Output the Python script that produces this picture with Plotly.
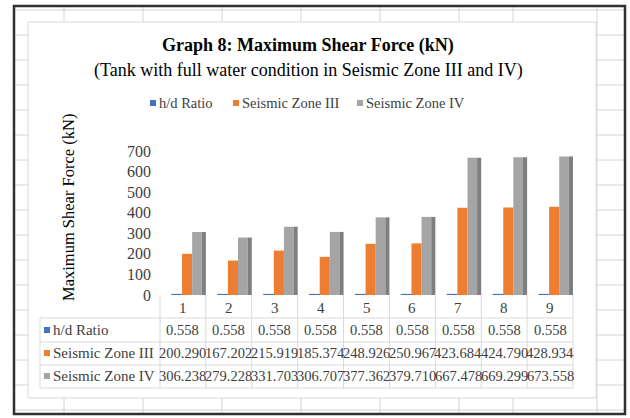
import plotly.graph_objects as go

categories = [1, 2, 3, 4, 5, 6, 7, 8, 9]
hd_ratio = [0.558, 0.558, 0.558, 0.558, 0.558, 0.558, 0.558, 0.558, 0.558]
zone_iii = [200.290, 167.202, 215.919, 185.374, 248.926, 250.967, 423.684, 424.790, 428.934]
zone_iv = [306.238, 279.228, 331.703, 306.707, 377.362, 379.710, 667.478, 669.299, 673.558]
series_names = ["h/d Ratio", "Seismic Zone III", "Seismic Zone IV"]
table_text = [["0.558"] * 9,
              ["200.290", "167.202", "215.919", "185.374", "248.926", "250.967", "423.684", "424.790", "428.934"],
              ["306.238", "279.228", "331.703", "306.707", "377.362", "379.710", "667.478", "669.299", "673.558"]]
y_ticks = [0, 100, 200, 300, 400, 500, 600, 700]

BLUE, ORANGE, GRAY, GRAY_SIDE = "#4472C4", "#ED7D31", "#A5A5A5", "#7F7F7F"
TXT = "#404040"
FONT = "Liberation Serif, Times New Roman, serif"

W, H = 630, 418
L, R, T, B = 160, 57, 151, 123
PW, PH = W - L - R, H - T - B
XR = [0.5, 9.5]
YR = [0, 700]


def px(x):
    return (x - L) / PW


def py(y):
    return (H - B - y) / PH


def dx(v):
    return (v - XR[0]) / (XR[1] - XR[0])


fig = go.Figure()
fig.add_trace(go.Bar(x=categories, y=hd_ratio, name=series_names[0], marker_color=BLUE,
                     marker_line=dict(color=BLUE, width=2), offset=-0.23, width=0.2))
fig.add_trace(go.Bar(x=categories, y=zone_iii, name=series_names[1], marker_color=ORANGE,
                     marker_line_width=0, offset=-0.02, width=0.22))
fig.add_trace(go.Bar(x=categories, y=zone_iv, name=series_names[2], marker_color=GRAY,
                     marker_line_width=0, offset=0.20, width=0.21))
fig.add_trace(go.Bar(x=categories, y=zone_iv, name="side", marker_color=GRAY_SIDE, showlegend=False,
                     marker_line_width=0, offset=0.41, width=0.09, hoverinfo="skip"))

shapes = []
grid = dict(color="#d4d4d4", width=1)
# spreadsheet grid
for gy in range(10, 418, 25):
    shapes.append(dict(type="line", xref="paper", yref="paper", x0=px(14), x1=px(625),
                       y0=py(gy), y1=py(gy), line=grid, layer="below"))
for gx in [64, 143, 222, 301, 380, 459, 513, 597]:
    shapes.append(dict(type="line", xref="paper", yref="paper", x0=px(gx), x1=px(gx),
                       y0=py(6), y1=py(414), line=grid, layer="below"))
# chart box
shapes.append(dict(type="rect", xref="paper", yref="paper", x0=px(28), x1=px(596),
                   y0=py(22), y1=py(398), fillcolor="white",
                   line=dict(color="#d9d9d9", width=1), layer="below"))
# outer border
shapes.append(dict(type="rect", xref="paper", yref="paper", x0=px(14), x1=px(625),
                   y0=py(6), y1=py(414), line=dict(color="#303030", width=2.5), layer="above"))

tline = dict(color="#d9d9d9", width=1)
row_lines = [318, 342, 365, 388]
for ry in row_lines:
    shapes.append(dict(type="line", xref="paper", yref="paper", x0=px(40), x1=dx(9.5),
                       y0=py(ry), y1=py(ry), line=tline, layer="below"))
shapes.append(dict(type="line", xref="paper", yref="paper", x0=px(40), x1=px(40),
                   y0=py(318), y1=py(388), line=tline, layer="below"))
for k in range(len(categories) + 1):
    bx = dx(categories[0] - 0.5 + k)
    shapes.append(dict(type="line", xref="paper", yref="paper", x0=bx, x1=bx,
                       y0=0, y1=py(388), line=tline, layer="below"))

annotations = []


def ann(text, x, y, size, color=TXT, xref="paper", xanchor="center", bold=False, angle=0):
    annotations.append(dict(text=f"<b>{text}</b>" if bold else text, xref=xref, yref="paper",
                            x=x, y=y, xanchor=xanchor, yanchor="middle", showarrow=False,
                            textangle=angle, font=dict(family=FONT, size=size, color=color)))


# title
ann("Graph 8: Maximum Shear Force (kN)", px(308), py(46), 18, "black", bold=True)
ann("(Tank with full water condition in Seismic Zone III and IV)", px(308), py(70), 18, "black")
# legend
leg_x = [150, 233, 357]
colors = [BLUE, ORANGE, GRAY]
for lx, name, c in zip(leg_x, series_names, colors):
    shapes.append(dict(type="rect", xref="paper", yref="paper", x0=px(lx), x1=px(lx + 6),
                       y0=py(106), y1=py(100), fillcolor=c, line_width=0))
    ann(name, px(lx + 7), py(103), 14.5, xanchor="left")
# y-axis title
ann("Maximum Shear Force (kN)", px(68), py(208), 16.5, "black", angle=-90)
# table header numbers
for c in categories:
    ann(str(c), c, py(308), 15, xref="x")
# table rows
row_centers = [330, 353, 376]
for ri, (rc, name, c) in enumerate(zip(row_centers, series_names, colors)):
    shapes.append(dict(type="rect", xref="paper", yref="paper", x0=px(44), x1=px(50),
                       y0=py(rc + 3), y1=py(rc - 3), fillcolor=c, line_width=0))
    ann(name, px(51), py(rc), 15, xanchor="left")
    for cat, val in zip(categories, table_text[ri]):
        ann(val, cat, py(rc), 14.5, xref="x")

fig.update_layout(
    width=W, height=H, margin=dict(l=L, r=R, t=T, b=B),
    paper_bgcolor="white", plot_bgcolor="rgba(0,0,0,0)",
    showlegend=False, barmode="overlay",
    xaxis=dict(range=XR, showticklabels=False, showgrid=False, zeroline=False, showline=False,
               ticks=""),
    yaxis=dict(range=YR, tickvals=y_ticks, showgrid=False, zeroline=False, showline=False,
               tickfont=dict(family=FONT, size=16, color=TXT), ticks="", ticklabelstandoff=8),
    shapes=shapes, annotations=annotations,
)

fig.write_html("out.html", config={"displayModeBar": False},
               post_script="document.body.style.margin='0';")
